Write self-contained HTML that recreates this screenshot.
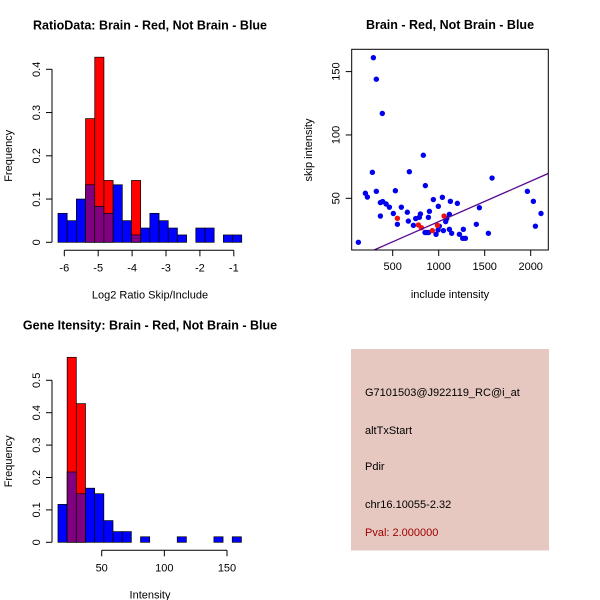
<!DOCTYPE html>
<html><head><meta charset="utf-8"><style>
body{margin:0;background:#fff}
svg{display:block}
text{font-family:"Liberation Sans",sans-serif;fill:#000}
</style></head><body>
<svg id="c" width="600" height="600" xmlns="http://www.w3.org/2000/svg"></svg>
<script>
// ---- Panel 1: ratio histogram ----
const ratioBinStart = -6.186, ratioBinWidth = 0.271;
const ratioBlue = [0.067,0.05,0.1,0.133,0.083,0.067,0.133,0.05,0.017,0.033,0.067,0.05,0.033,0.017,0,0.033,0.033,0,0.017,0.017];
const ratioRed  = [0,0,0,0.286,0.428,0.143,0,0,0.143,0,0,0,0,0,0,0,0,0,0,0];
const ratioXTicks = [-6,-5,-4,-3,-2,-1];
const ratioYTicks = [0,0.1,0.2,0.3,0.4];
// ---- Panel 2: scatter ----
const blueX = [127,290,322,387,279,322,203,225,366,391,428,464,366,507,529,551,594,659,670,681,725,750,790,801,833,855,888,899,851,870,891,942,996,971,993,1007,1040,1051,1076,1087,1116,1127,1116,1141,1203,1225,1261,1290,1268,1409,1442,1540,1580,1964,2029,2051,2112];
const blueY = [15.3,161,144,117,70.5,55.5,54,51,46.6,47.4,45.5,43,36,38,56,29.5,43,39,32,71,28.7,34,35,37.6,84,60,35,39.7,23,23,23,49,43.7,21.6,25,28,50.8,24.5,31.6,34,37.4,47.6,25.5,22.4,46,21.6,18.4,18.4,25.5,29.5,42.6,22.4,66,55.5,47.6,28,38];
const redX = [551,779,812,931,1058,986];
const redY = [34.2,29,26.8,24.5,36,28.7];
const fitLine = [-0.3, 0.0319]; // intercept, slope
const scatterXTicks = [500,1000,1500,2000];
const scatterYTicks = [50,100,150];
// ---- Panel 3: intensity histogram ----
const intBinStart = 15.1, intBinWidth = 7.32;
const intBlue = [0.117,0.217,0.15,0.167,0.15,0.067,0.033,0.033,0,0.017,0,0,0,0.017,0,0,0,0.017,0,0.017];
const intRed  = [0,0.571,0.428,0,0,0,0,0,0,0,0,0,0,0,0,0,0,0,0,0];
const intXTicks = [50,100,150];
const intYTicks = [0,0.1,0.2,0.3,0.4,0.5];
// ---- Panel 4: text ----
const infoLines = ["G7101503@J922119_RC@i_at","altTxStart","Pdir","chr16.10055-2.32"];
const pvalText = "Pval: 2.000000";

const svg = document.getElementById('c');
const NS = "http://www.w3.org/2000/svg";
function mk(tag, attrs, parent){const e=document.createElementNS(NS,tag);for(const k in attrs)e.setAttribute(k,attrs[k]);(parent||svg).appendChild(e);return e;}
function txt(s,attrs,parent){const e=mk('text',attrs,parent);e.textContent=s;return e;}

function histogram(name, sx, sy, start, w, blue, red, xTicks, yTicks, axY, xlab, title, titleX){
  const g=mk('g',{});
  
  
  for(let i=0;i<blue.length;i++){
    const x0=sx(start+i*w), x1=sx(start+(i+1)*w);
    const b=blue[i], r=red[i];
    if(r>0){const e=mk('rect',{x:x0,y:sy(r),width:x1-x0,height:sy(0)-sy(r),fill:'#ff0000',stroke:'#000','stroke-width':0.7},g);
      }
    if(b>0){const e=mk('rect',{x:x0,y:sy(b),width:x1-x0,height:sy(0)-sy(b),fill:r>0?'#800080':'#0000ff',stroke:'#000','stroke-width':0.7},g);
      }
  }
  const ya=mk('g',{},g);
  
  const ax=axY;
  mk('line',{x1:ax,y1:sy(yTicks[0]),x2:ax,y2:sy(yTicks[yTicks.length-1]),stroke:'#000'},ya);
  yTicks.forEach(t=>{mk('line',{x1:ax-6,y1:sy(t),x2:ax,y2:sy(t),stroke:'#000'},ya);
    const l=txt(String(t),{x:0,y:0,'font-size':11,'text-anchor':'middle',transform:`translate(${ax-12},${sy(t)}) rotate(-90)`},ya);
    });
  const yl=txt('Frequency',{x:0,y:0,'font-size':11,'text-anchor':'middle',transform:`translate(12,${(sy(yTicks[0])+sy(yTicks[yTicks.length-1]))/2}) rotate(-90)`},ya);
  
  const xa=mk('g',{},g);
  
  const ay=sy(0)+8;
  mk('line',{x1:sx(xTicks[0]),y1:ay,x2:sx(xTicks[xTicks.length-1]),y2:ay,stroke:'#000'},xa);
  xTicks.forEach(t=>{mk('line',{x1:sx(t),y1:ay,x2:sx(t),y2:ay+6,stroke:'#000'},xa);
    const l=txt(String(t),{x:sx(t),y:ay+21,'font-size':11,'text-anchor':'middle'},xa);
    });
  const xl=txt(xlab,{x:150,y:ay+48,'font-size':11,'text-anchor':'middle'},xa);
  
  const tt=txt(title,{x:titleX,y:ay-221,'font-size':12.5,'font-weight':'bold','text-anchor':'middle'},g);
  
}

histogram('ratio-histogram', v=>64.3+(v+6)*33.9, v=>242.3-v*432.5, ratioBinStart, ratioBinWidth, ratioBlue, ratioRed, ratioXTicks, ratioYTicks, 52, 'Log2 Ratio Skip/Include', 'RatioData: Brain - Red, Not Brain - Blue', 150);
histogram('intensity-histogram', v=>101.7+(v-50)*1.253, v=>542.3-v*324, intBinStart, intBinWidth, intBlue, intRed, intXTicks, intYTicks, 52, 'Intensity', 'Gene Itensity: Brain - Red, Not Brain - Blue', 150);

(function(){
  const g=mk('g',{});
  
  const sx=v=>392.7+(v-500)*0.092, sy=v=>198.3-(v-50)*1.267;
  const L=351.7,R=548.3,T=49.3,B=250;
  const cp=mk('clipPath',{id:'clp'},g);mk('rect',{x:L,y:T,width:R-L,height:B-T},cp);
  const pts=mk('g',{'clip-path':'url(#clp)'},g);
  blueX.forEach((x,i)=>{const c=mk('circle',{cx:sx(x),cy:sy(blueY[i]),r:2.7,fill:'#0000ee'},pts);
    });
  redX.forEach((x,i)=>{const c=mk('circle',{cx:sx(x),cy:sy(redY[i]),r:2.7,fill:'#ee1111'},pts);
    });
  const x0=0,x1=2300;
  const ln=mk('line',{x1:sx(x0),y1:sy(fitLine[0]+fitLine[1]*x0),x2:sx(x1),y2:sy(fitLine[0]+fitLine[1]*x1),stroke:'#5a0a90','stroke-width':1.3},pts);
  
  mk('rect',{x:L,y:T,width:R-L,height:B-T,fill:'none',stroke:'#000'},g);
  scatterXTicks.forEach(t=>{mk('line',{x1:sx(t),y1:B,x2:sx(t),y2:B+6,stroke:'#000'},g);
    const l=txt(String(t),{x:sx(t),y:B+20,'font-size':11,'text-anchor':'middle'},g);
    });
  scatterYTicks.forEach(t=>{mk('line',{x1:L-6,y1:sy(t),x2:L,y2:sy(t),stroke:'#000'},g);
    const l=txt(String(t),{x:0,y:0,'font-size':11,'text-anchor':'middle',transform:`translate(${L-12},${sy(t)}) rotate(-90)`},g);
    });
  const xl=txt('include intensity',{x:450,y:298,'font-size':11,'text-anchor':'middle'},g);
  
  const yl=txt('skip intensity',{x:0,y:0,'font-size':11,'text-anchor':'middle',transform:'translate(312,150) rotate(-90)'},g);
  
  const tt=txt('Brain - Red, Not Brain - Blue',{x:450,y:29,'font-size':12.5,'font-weight':'bold','text-anchor':'middle'},g);
  
})();

(function(){
  const g=mk('g',{});
  
  mk('rect',{x:351,y:349,width:198,height:201.5,fill:'#e6c8c0'},g);
  const ys=[396,434,470,508];
  infoLines.forEach((s,i)=>{const t=txt(s,{x:365,y:ys[i],'font-size':11},g);
    });
  const p=txt(pvalText,{x:365,y:536,'font-size':11,style:'fill:#a00000'},g);
  
})();
</script>
</body></html>
